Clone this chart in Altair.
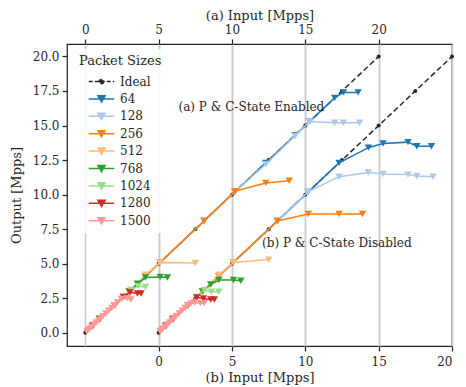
import altair as alt
import pandas as pd

FONT = "DejaVu Serif"
INK = "#262626"

# ---------------- data ----------------
sizes = ["64", "128", "256", "512", "768", "1024", "1280", "1500"]
size_colors = ["#1f77b4", "#aec7e8", "#ff7f0e", "#ffbb78",
               "#2ca02c", "#98df8a", "#d62728", "#ff9896"]
legend_order = ["Ideal"] + sizes
legend_colors = [INK] + size_colors

ideal_in = [0, 2.5, 5, 7.5, 10, 12.5, 15, 17.5, 20]

in_64 = [0.5, 1.0, 2.0, 3.0, 4.1, 5.1, 8.1, 10.2, 12.3, 14.3, 15.3, 17.0, 17.6, 18.6]
a_64 = [0.5, 1.0, 2.0, 3.0, 4.1, 5.1, 8.1, 10.2, 12.3, 14.3, 15.3, 17.0, 17.4, 17.4]
b_64 = [0.5, 1.0, 2.0, 3.0, 4.1, 5.1, 8.1, 10.2, 12.3, 13.4, 13.7, 13.8, 13.5, 13.5]

in_128 = [0.5, 1.0, 2.0, 3.0, 4.1, 5.1, 8.1, 10.2, 12.3, 14.3, 15.3, 17.0, 17.6, 18.7]
a_128 = [0.5, 1.0, 2.0, 3.0, 4.1, 5.1, 8.1, 10.2, 12.2, 14.25, 15.3, 15.2, 15.2, 15.2]
b_128 = [0.5, 1.0, 2.0, 3.0, 4.1, 5.1, 8.1, 10.2, 11.3, 11.6, 11.5, 11.45, 11.35, 11.3]

in_256 = [0.5, 1.0, 2.0, 3.0, 4.1, 5.1, 8.1, 10.2, 12.3, 13.9]
a_256 = [0.5, 1.0, 2.0, 3.0, 4.1, 5.1, 8.1, 10.25, 10.85, 11.0]
b_256 = [0.5, 1.0, 2.0, 3.0, 4.1, 5.1, 8.1, 8.6, 8.6, 8.6]

in_512 = [0.5, 1.0, 2.0, 3.0, 4.1, 5.1, 7.5]
a_512 = [0.5, 1.0, 2.0, 3.0, 4.2, 5.1, 5.05]
b_512 = [0.5, 1.0, 2.0, 3.0, 4.2, 5.1, 5.3]

in_768 = [0.5, 1.0, 2.0, 3.0, 3.55, 4.1, 5.1, 5.6]
a_768 = [0.5, 1.0, 2.0, 3.0, 3.55, 4.0, 4.05, 4.0]
b_768 = [0.5, 1.0, 2.0, 3.0, 3.5, 3.82, 3.82, 3.77]

in_1024 = [0.5, 1.0, 2.0, 2.6, 3.1, 3.6, 4.1]
a_1024 = [0.5, 1.0, 2.0, 2.6, 3.1, 3.38, 3.33]
b_1024 = [0.5, 1.0, 2.0, 2.6, 3.1, 2.97, 2.97]

in_1280 = [0.5, 1.0, 2.0, 2.6, 3.05, 3.55, 3.8]
a_1280 = [0.5, 1.0, 2.0, 2.6, 2.93, 2.85, 2.85]
b_1280 = [0.5, 1.0, 2.0, 2.56, 2.49, 2.42, 2.42]

in_1500 = [0.1, 0.2, 0.3, 0.45, 0.6, 0.75, 0.9, 1.05, 1.2, 1.4, 1.6, 1.8, 2.0, 2.2, 2.45, 2.85, 3.1]
a_1500 = [0.1, 0.2, 0.3, 0.45, 0.6, 0.75, 0.9, 1.05, 1.2, 1.4, 1.6, 1.8, 2.0, 2.2, 2.45, 2.5, 2.42]
b_1500 = [0.1, 0.2, 0.3, 0.45, 0.6, 0.75, 0.9, 1.05, 1.2, 1.4, 1.6, 1.8, 2.0, 2.13, 2.2, 2.15, 2.15]

series = {
    "64": (in_64, a_64, b_64),
    "128": (in_128, a_128, b_128),
    "256": (in_256, a_256, b_256),
    "512": (in_512, a_512, b_512),
    "768": (in_768, a_768, b_768),
    "1024": (in_1024, a_1024, b_1024),
    "1280": (in_1280, a_1280, b_1280),
    "1500": (in_1500, a_1500, b_1500),
}

ann_text = ["(a) P & C-State Enabled", "(b) P & C-State Disabled"]
ann_panel = ["a", "b"]
ann_input = [6.35, 7.05]
ann_output = [16.35, 6.5]

x_top_ticks = [0, 5, 10, 15, 20]
x_bottom_ticks = [0, 5, 10, 15, 20]
y_ticks = [0, 2.5, 5, 7.5, 10, 12.5, 15, 17.5, 20]

# ---------------- tables ----------------
rows = []
for s, (xin, ya, yb) in series.items():
    for i, o in zip(xin, ya):
        rows.append({"size": s, "panel": "a", "input": i, "output": o})
    for i, o in zip(xin, yb):
        rows.append({"size": s, "panel": "b", "input": i, "output": o})
df = pd.DataFrame(rows)

ideal_rows = []
for p in ["a", "b"]:
    for v in ideal_in:
        ideal_rows.append({"size": "Ideal", "panel": p, "input": v, "output": v})
ideal_df = pd.DataFrame(ideal_rows)

ann_df = pd.DataFrame({"text": ann_text, "panel": ann_panel,
                       "input": ann_input, "output": ann_output})
legend_df = pd.DataFrame({"size": legend_order})

# panel (b) is drawn against the bottom axis, which is shifted by 5 units
SHIFT = "datum.panel == 'b' ? datum.input + 5 : datum.input"

xscale = alt.Scale(domain=[-1.25, 25.0], nice=False, zero=False)
yscale = alt.Scale(domain=[-0.95, 20.9], nice=False, zero=False)

# legend glyphs: a short line with the marker in the middle
tri_path = "M-1.5,0H1.5M-0.42,-0.36L0.42,-0.36L0,0.37Z"
dot_path = "M-1.5,0H1.5M0.25,0A0.25,0.25,0,1,1,-0.25,0A0.25,0.25,0,1,1,0.25,0Z"
shapes = [dot_path] + [tri_path] * 8
dashes = [[4, 2]] + [[1, 0]] * 8

legend = alt.Legend(
    title="Packet Sizes", orient="none", legendX=6, legendY=5,
    titleFont=FONT, titleFontSize=13, titleFontWeight="normal", titleColor=INK,
    labelFont=FONT, labelFontSize=12, labelColor=INK,
    fillColor="rgba(255,255,255,0.85)", padding=6, cornerRadius=3,
    symbolSize=289, symbolOffset=13, labelOffset=9, rowPadding=1.4, titlePadding=4,
    symbolStrokeWidth=1.5, symbolOpacity=1,
)

color = alt.Color("size:N", scale=alt.Scale(domain=sizes, range=size_colors), legend=None)

axis_common = dict(
    grid=True, gridColor="#cccccc", gridWidth=1.5, domain=False,
    ticks=True, tickSize=5, tickWidth=1.25, tickColor=INK,
    labelFont=FONT, labelFontSize=12, labelColor=INK,
    titleFont=FONT, titleFontSize=13, titleFontWeight="normal", titleColor=INK,
)
top_axis = alt.Axis(orient="top", values=x_top_ticks, title="(a) Input [Mpps]",
                    format="d", labelPadding=3, titlePadding=1, **axis_common)
bottom_axis = alt.Axis(orient="bottom", values=[v + 5 for v in x_bottom_ticks],
                       labelExpr="format(datum.value - 5, 'd')",
                       title="(b) Input [Mpps]", labelPadding=5, titlePadding=4, **axis_common)
y_axis = alt.Axis(values=y_ticks, format=".1f", title="Output [Mpps]", grid=False, domain=False,
                  ticks=True, tickSize=5, tickWidth=1.25, tickColor=INK,
                  labelFont=FONT, labelFontSize=12, labelColor=INK, labelPadding=3,
                  titleFont=FONT, titleFontSize=13, titleFontWeight="normal", titleColor=INK,
                  titlePadding=9)


def ideal_layer(panel, xaxis, yaxis):
    return alt.Chart(ideal_df).transform_filter(
        alt.datum.panel == panel
    ).transform_calculate(xs=SHIFT).mark_line(
        strokeDash=[5.5, 3], strokeWidth=1.5, color=INK,
        point=alt.OverlayMarkDef(filled=True, size=16, shape="circle", opacity=1, color=INK),
    ).encode(
        x=alt.X("xs:Q", scale=xscale, axis=xaxis),
        y=alt.Y("output:Q", scale=yscale, axis=yaxis),
        order="input:Q",
    )


layers = [ideal_layer("a", top_axis, y_axis), ideal_layer("b", bottom_axis, None)]

for s in series:
    layers.append(
        alt.Chart(df).transform_filter(alt.datum.size == s)
        .transform_calculate(xs=SHIFT)
        .mark_line(strokeWidth=1.5,
                   point=alt.OverlayMarkDef(filled=True, size=55, shape="triangle-down", opacity=1))
        .encode(
            x=alt.X("xs:Q", scale=xscale, axis=None),
            y=alt.Y("output:Q", scale=yscale, axis=None),
            color=color,
            detail="panel:N",
            order="input:Q",
        )
    )

layers.append(
    alt.Chart(ann_df).transform_calculate(xs=SHIFT).mark_text(
        align="left", baseline="middle", font=FONT, fontSize=12, color=INK
    ).encode(
        x=alt.X("xs:Q", scale=xscale, axis=None),
        y=alt.Y("output:Q", scale=yscale, axis=None),
        text="text:N",
    )
)

# legend carrier: its own marks are fully transparent, it only supplies the legend entries
layers.append(
    alt.Chart(legend_df).mark_point(
        filled=True, opacity=0, size=289, strokeWidth=1.5
    ).encode(
        fill=alt.Fill("size:N", scale=alt.Scale(domain=legend_order, range=legend_colors), legend=legend),
        stroke=alt.Stroke("size:N", scale=alt.Scale(domain=legend_order, range=legend_colors), legend=legend),
        shape=alt.Shape("size:N", scale=alt.Scale(domain=legend_order, range=shapes), legend=legend),
        strokeDash=alt.StrokeDash("size:N", scale=alt.Scale(domain=legend_order, range=dashes),
                                  legend=legend),
    )
)

chart = alt.layer(*layers).resolve_axis(x="independent", y="independent").properties(
    width=385, height=302, autosize="none",
    padding={"left": 59, "top": 36, "right": 6, "bottom": 41},
).configure_view(stroke=INK, strokeWidth=1.25)

chart.save("out.html", embed_options={"renderer": "svg", "actions": False})
